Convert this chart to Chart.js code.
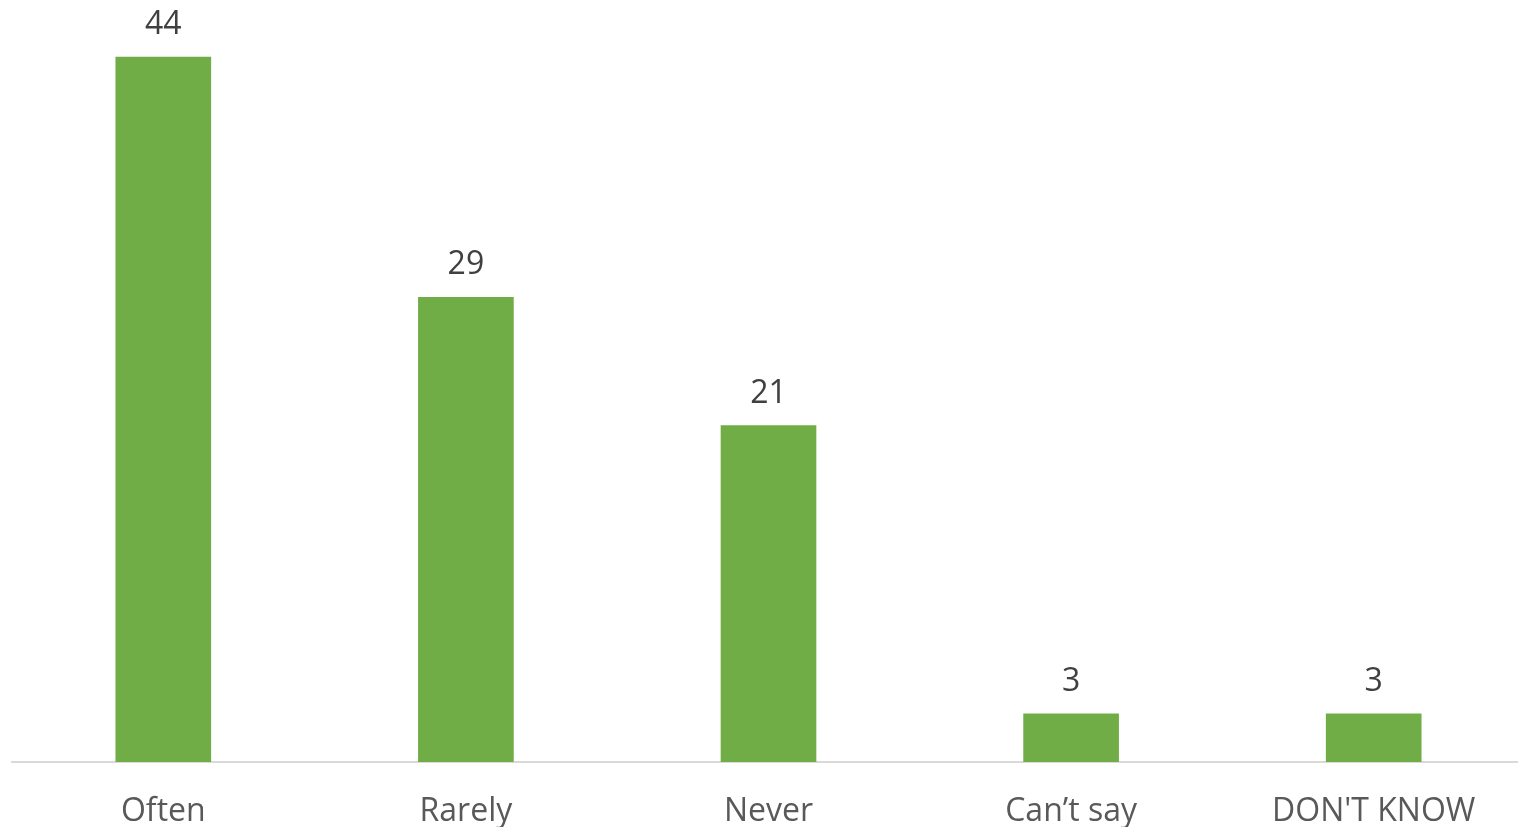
<!DOCTYPE html>
<html>
<head>
<meta charset="utf-8">
<script src="https://cdn.jsdelivr.net/npm/chart.js@4/dist/chart.umd.min.js"></script>
<style>
  html, body { margin: 0; padding: 0; background: #fff; overflow: hidden; }
  #wrap { width: 1525px; height: 827px; }
</style>
</head>
<body>
<div id="wrap"><canvas id="chart" width="1525" height="827"></canvas></div>
<script>
const categories = ["Often", "Rarely", "Never", "Can\u2019t say", "DON'T KNOW"];
const values = [44, 29, 21, 3, 3];

const barColor = "#70AD47";
const labelFont = "'Open Sans', 'Liberation Sans', sans-serif";

// value labels drawn above each bar
const valueLabels = {
    id: "valueLabels",
    afterDatasetsDraw(chart) {
        const ctx = chart.ctx;
        const meta = chart.getDatasetMeta(0);
        ctx.save();
        ctx.font = `32px ${labelFont}`;
        ctx.fillStyle = "#404040";
        ctx.textAlign = "center";
        ctx.textBaseline = "alphabetic";
        meta.data.forEach((bar, i) => {
            ctx.fillText(String(values[i]), bar.x, bar.y - 23);
        });
        ctx.restore();
    }
};

new Chart(document.getElementById("chart"), {
    type: "bar",
    data: {
        labels: categories,
        datasets: [{
            data: values,
            backgroundColor: barColor,
            barThickness: 95,
            categoryPercentage: 1
        }]
    },
    options: {
        responsive: false,
        animation: false,
        layout: {padding: {left: 12, right: 0, top: 0, bottom: 0}},
        plugins: {legend: {display: false}, tooltip: {enabled: false}},
        scales: {
            y: {display: false, min: 0, max: 47.56},
            x: {
                grid: {display: false, drawTicks: false},
                border: {color: "#D9D9D9", width: 2},
                ticks: {
                    color: "#595959",
                    font: {family: labelFont, size: 32},
                    padding: 31,
                    maxRotation: 0,
                    autoSkip: false
                },
                afterFit(scale) { scale.height = 65; }
            }
        }
    },
    plugins: [valueLabels]
});
</script>
</body>
</html>
